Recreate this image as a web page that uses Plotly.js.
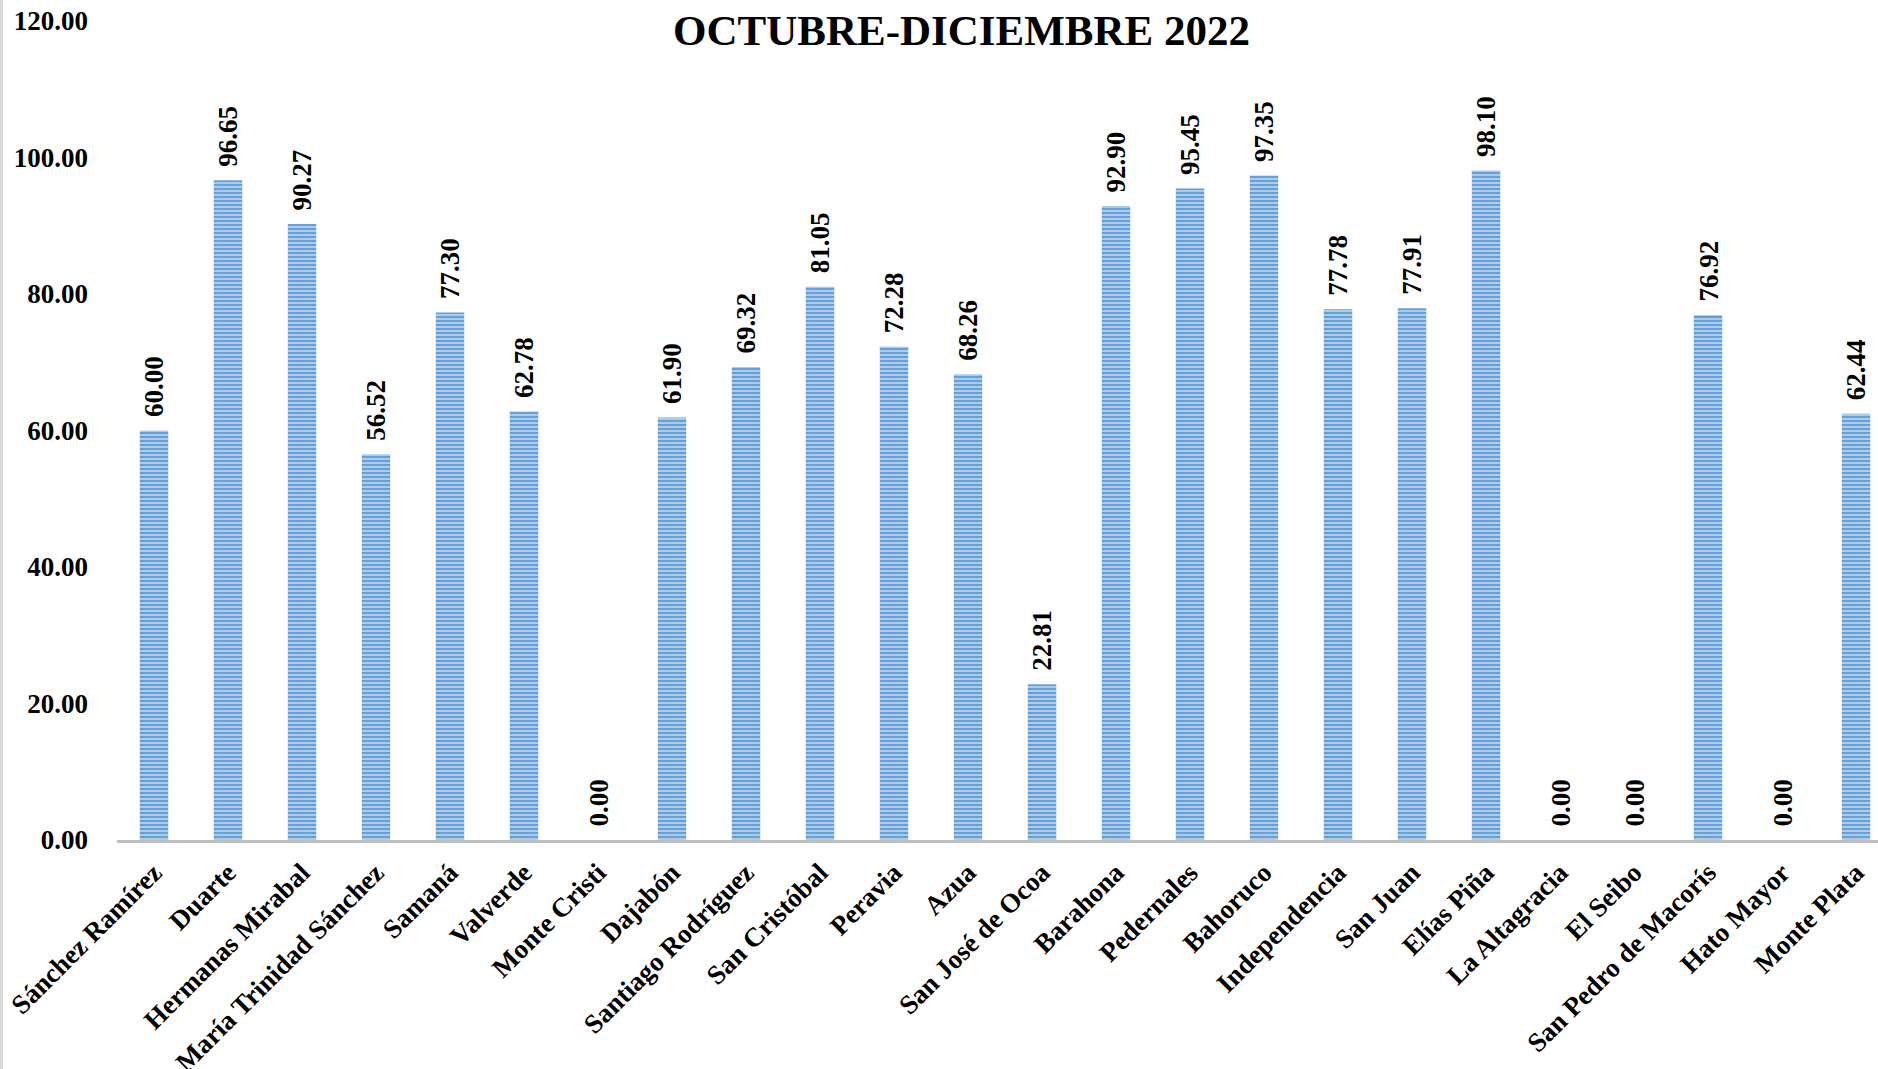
<!DOCTYPE html>
<html>
<head>
<meta charset="utf-8">
<script src="https://cdn.plot.ly/plotly-3.0.1.min.js"></script>
<style>
html,body{margin:0;padding:0;background:#fff;}
#wrap{width:1878px;height:1069px;position:relative;}
#border{position:absolute;left:0;top:0;width:3px;height:1069px;background:#d9d9d9;z-index:5;}
#chart{width:1878px;height:1069px;}
</style>
</head>
<body>
<div id="wrap"><div id="border"></div><div id="chart"></div></div>
<script>
const categories = ["Sánchez Ramírez","Duarte","Hermanas Mirabal","María Trinidad Sánchez","Samaná","Valverde","Monte Cristi","Dajabón","Santiago Rodríguez","San Cristóbal","Peravia","Azua","San José de Ocoa","Barahona","Pedernales","Bahoruco","Independencia","San Juan","Elías Piña","La Altagracia","El Seibo","San Pedro de Macorís","Hato Mayor","Monte Plata"];
const values = [60.00,96.65,90.27,56.52,77.30,62.78,0.00,61.90,69.32,81.05,72.28,68.26,22.81,92.90,95.45,97.35,77.78,77.91,98.10,0.00,0.00,76.92,0.00,62.44];
const yTicks = [0,20,40,60,80,100,120];
const titleText = "OCTUBRE-DICIEMBRE 2022";

const F = "Liberation Serif, Times New Roman, serif";

const trace = {
  type: "bar",
  x: categories,
  y: values,
  marker: {
    color: "#65a0d9",
    line: {width: 0},
    pattern: {shape: "-", bgcolor: "#65a0d9", fgcolor: "#c9def4", size: 4, solidity: 0.35}
  },
  hoverinfo: "none"
};

const annotations = categories.map((c, i) => ({
  x: c, y: values[i], xref: "x", yref: "y",
  text: values[i].toFixed(2),
  showarrow: false, textangle: -90,
  yanchor: "bottom", xanchor: "center", yshift: 11,
  font: {family: F, size: 27, color: "#000", weight: "bold"}
}));

const layout = {
  width: 1878, height: 1069,
  margin: {l: 117, r: 0, t: 21, b: 229, pad: 0},
  paper_bgcolor: "#fff", plot_bgcolor: "#fff",
  showlegend: false,
  bargap: 0.615,
  title: {
    text: titleText, x: 0.512, xref: "container", y: 0.972, yref: "container",
    xanchor: "center", yanchor: "middle",
    font: {family: F, size: 43, color: "#000", weight: "bold"}
  },
  xaxis: {
    type: "category",
    range: [-0.5, 23.297],
    showgrid: false, zeroline: false,
    showline: true, linecolor: "#bfbfbf", linewidth: 3,
    ticks: "", tickangle: -45,
    ticklabelstandoff: 3,
    tickfont: {family: F, size: 27, color: "#000", weight: "bold"}
  },
  yaxis: {
    range: [0, 120],
    tickvals: yTicks,
    ticktext: yTicks.map(v => v.toFixed(2)),
    showgrid: false, zeroline: false, showline: false,
    ticks: "",
    ticklabelstandoff: 28,
    tickfont: {family: F, size: 27, color: "#000", weight: "bold"}
  },
  annotations: annotations
};

Plotly.newPlot("chart", [trace], layout, {displayModeBar: false, staticPlot: true});
</script>
</body>
</html>
